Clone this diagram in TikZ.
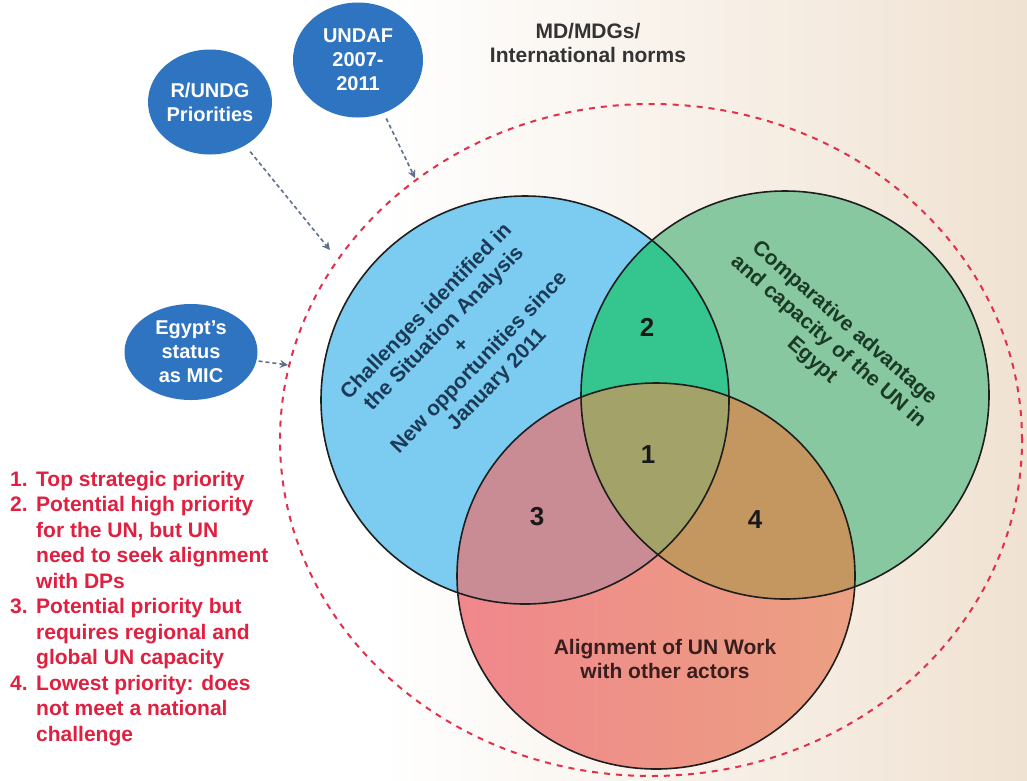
\documentclass[tikz,border=0pt]{standalone}
\usepackage{fontspec}
\setmainfont{Liberation Sans}
\usetikzlibrary{shapes.geometric,arrows.meta}
\definecolor{bgbeige}{RGB}{240,226,210}
\definecolor{bgmid}{RGB}{236,238,233}
\definecolor{bluec}{RGB}{124,203,240}
\definecolor{greenc}{RGB}{136,200,160}
\definecolor{redl}{RGB}{240,135,140}
\definecolor{redr}{RGB}{236,160,130}
\definecolor{regone}{RGB}{163,162,105}
\definecolor{regtwo}{RGB}{52,198,142}
\definecolor{regthree}{RGB}{201,140,148}
\definecolor{regfour}{RGB}{195,151,95}
\definecolor{ellblue}{RGB}{46,116,192}
\definecolor{arrcol}{RGB}{95,112,142}
\definecolor{dashred}{RGB}{226,48,74}
\definecolor{legred}{RGB}{224,32,64}
\definecolor{navytxt}{RGB}{27,58,87}
\definecolor{greentxt}{RGB}{26,58,37}
\definecolor{browntxt}{RGB}{58,30,30}
\definecolor{outline}{RGB}{30,30,30}
\tikzset{
  smallell/.style={ellipse, fill=ellblue, text=white, inner sep=0pt, align=center,
    font=\bfseries\fontsize{20}{24}\selectfont},
  dasharrow/.style={draw=arrcol, line width=1.6pt, dash pattern=on 4pt off 3pt,
    -{Stealth[length=8pt,width=8pt]}},
  circtext/.style={align=center, inner sep=0pt, font=\bfseries\fontsize{21}{24.5}\selectfont},
  numtext/.style={inner sep=0pt, text=black!90, font=\bfseries\fontsize{26}{30}\selectfont},
  venn/.style={draw=outline, line width=1.6pt}
}
\begin{document}
\begin{tikzpicture}[x=1pt,y=-1pt]
\useasboundingbox (0,0) rectangle (1027,780);
\fill[white] (0,0) rectangle (1027,780);
\shade[left color=white, middle color=bgmid, right color=bgbeige] (380,0) rectangle (1027,780);

% outer dashed boundary
\draw[dashred, line width=2pt, dash pattern=on 6pt off 6pt] (651,440) ellipse [x radius=371pt, y radius=336pt];

% Venn fills
\fill[bluec] (525,400) circle [radius=204pt];
\fill[greenc] (785,395) circle [radius=204pt];
\shade[left color=redl, right color=redr] (656,576) ellipse [x radius=199pt, y radius=193pt];
\begin{scope}
  \clip (525,400) circle [radius=204pt];
  \fill[regtwo] (785,395) circle [radius=204pt];
  \fill[regthree] (656,576) ellipse [x radius=199pt, y radius=193pt];
\end{scope}
\begin{scope}
  \clip (785,395) circle [radius=204pt];
  \fill[regfour] (656,576) ellipse [x radius=199pt, y radius=193pt];
\end{scope}
\begin{scope}
  \clip (525,400) circle [radius=204pt];
  \clip (785,395) circle [radius=204pt];
  \fill[regone] (656,576) ellipse [x radius=199pt, y radius=193pt];
\end{scope}
\draw[venn] (525,400) circle [radius=204pt];
\draw[venn] (785,395) circle [radius=204pt];
\draw[venn] (656,576) ellipse [x radius=199pt, y radius=193pt];

% texts in circles
\node[circtext, text=navytxt, rotate=46] (bluetext) at (462,346)
  {Challenges identified in\\the Situation Analysis\\+\\New opportunities since\\January 2011};
\node[circtext, text=greentxt, rotate=-41] (greentext) at (828,342)
  {Comparative advantage\\and capacity of the UN in\\Egypt};
\node[circtext, text=browntxt] (redtext) at (665,659)
  {Alignment of UN Work\\with other actors};

\node[numtext] (n2) at (647,327) {2};
\node[numtext] (n1) at (648,455) {1};
\node[numtext] (n3) at (537,517) {3};
\node[numtext] (n4) at (755,520) {4};

% top label
\node[circtext, text=black!80] (mdg) at (588,43) {MD/MDGs/\\International norms};

% input ellipses
\node[smallell, minimum width=124pt, minimum height=105pt] (rundg) at (210,102) {R/UNDG\\Priorities};
\node[smallell, minimum width=130pt, minimum height=115pt] (undaf) at (358,60) {UNDAF\\2007-\\2011};
\node[smallell, minimum width=133pt, minimum height=96pt] (egypt) at (191,352) {Egypt's\\status\\as MIC};

\coordinate (endA) at (330,250);
\coordinate (endB) at (415,178);
\coordinate (endC) at (288,365);
\draw[dasharrow, shorten <=8pt] (rundg) -- (endA);
\draw[dasharrow, shorten <=6pt] (undaf) -- (endB);
\draw[dasharrow, shorten <=2pt] (egypt) -- (endC);

% legend
\node[anchor=north west, inner sep=0pt, text=legred, font=\bfseries\fontsize{21}{25.5}\selectfont] (legend) at (10,468)
{\begin{tabular}{@{}p{26pt}@{}l@{}}
1. & Top strategic priority\\
2. & Potential high priority\\
   & for the UN, but UN\\
   & need to seek alignment\\
   & with DPs\\
3. & Potential priority but\\
   & requires regional and\\
   & global UN capacity\\
4. & Lowest priority: does\\
   & not meet a national\\
   & challenge
\end{tabular}};
\end{tikzpicture}
\end{document}
